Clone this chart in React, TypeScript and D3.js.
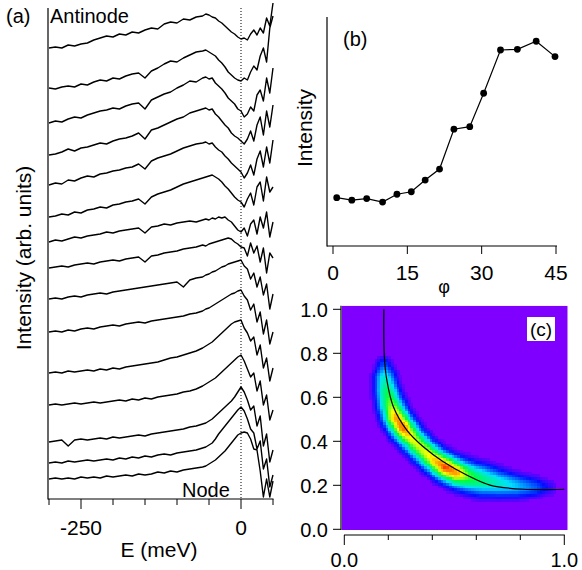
import React from "react";
import * as d3 from "d3";

// ---------- Panel (a): EDC stack ----------
const energies = [-300,-290,-280,-270,-260,-250,-240,-230,-220,-210,-200,-190,-180,-170,-160,-150,-140,-130,-120,-110,-100,-90,-80,-70,-60,-55,-50,-45,-40,-35,-30,-25,-20,-15,-10,-5,0,5,10,15,20,25,30,35,40,45,50];
const offsets = [451, 411, 376, 344, 314, 282, 257, 231, 200, 167, 126, 94, 57, 36, 20];
const curve01 = [0,1,0,3,2,4,5,8,10,12, 11,14,13,16,15,18,20,19,24,26, 25,29,28,31,32,34,33,31,30,27, 25,22,19,16,14,11,9,10,8,14, 18,13,20,15,30,22,45];
const curve02 = [0,-1,1,2,1,4,3,6,8,7, 10,9,12,14,15,10,17,20,24,27, 26,30,33,36,37,38,36,34,32,28, 25,21,16,13,10,8,7,10,8,16, 22,18,32,40,26,60,72];
const curve03 = [0,2,1,4,6,5,8,10,12,13, 15,14,17,19,20,14,23,26,29,31, 35,38,42,41,45,46,44,45,40,37, 34,30,25,22,19,14,12,6,9,16, 12,28,33,22,45,30,55];
const curve04 = [0,1,3,6,4,7,8,10,12,11, 14,16,17,19,22,16,25,27,30,33, 36,38,42,44,46,47,45,46,41,38, 34,30,27,22,19,17,14,11,16,24, 14,30,38,20,44,28,50];
const curve05 = [0,2,1,5,4,7,9,8,11,12, 14,15,17,18,21,16,24,27,29,31, 34,37,39,41,42,43,41,42,38,35, 33,29,26,22,19,16,13,7,12,20, 10,26,34,18,38,22,45];
const curve06 = [0,1,3,2,5,4,7,8,10,9, 12,13,15,16,18,13,20,23,25,27, 30,33,35,37,39,40,41,42,40,38, 35,31,28,24,20,17,15,10,18,24, 12,30,35,16,40,25,30];
const curve07 = [0,2,1,3,5,4,6,7,8,10, 9,11,12,13,14,9,15,16,18,17, 19,20,21,20,22,23,22,24,23,25, 24,25,22,20,16,12,10,14,6,18, 22,8,25,14,30,5,20];
const curve08 = [0,1,2,1,3,4,5,4,6,7, 8,7,9,10,11,6,12,13,15,16, 17,19,20,21,23,22,24,25,26,27, 28,29,30,29,26,24,21,20,12,25, 15,22,6,20,-5,15,10];
const curve09 = [0,1,0,2,3,2,4,5,6,5, 7,8,9,10,11,12,13,14,15,16, 17,12,19,21,22,24,25,27,28,30, 32,33,35,36,37,38,39,33,30,20, 26,12,22,4,15,-10,5];
const curve10 = [0,1,0,2,1,3,4,3,5,6, 7,6,8,9,10,9,11,12,13,14, 15,16,18,19,21,23,24,26,28,30, 32,34,36,38,39,41,42,36,32,22, 28,10,20,-2,12,-12,0];
const curve11 = [0,1,0,2,1,2,3,2,4,3, 5,4,6,7,8,9,10,11,13,15, 16,18,20,22,25,27,29,31,34,37, 40,43,46,49,51,52,53,45,40,32, 36,18,28,5,15,-8,5];
const curve12 = [0,1,0,1,2,1,2,3,2,3, 4,5,4,6,5,7,6,8,9,10, 11,13,14,16,19,21,23,25,27,30, 33,36,39,42,45,48,50,44,36,28, 32,14,24,0,10,-15,-5];
const curve13 = [0,1,2,-4,2,3,2,3,4,3, 5,4,5,6,7,6,8,9,10,11, 12,13,15,16,18,19,21,23,26,29, 32,35,38,41,45,50,55,50,42,32, 36,16,26,-4,8,-20,-8];
const curve14 = [0,1,0,2,1,2,3,2,3,4, 3,5,4,6,5,7,6,8,9,8, 10,11,12,13,15,16,18,20,24,29, 33,37,41,45,49,53,56,52,44,34, 30,14,22,-6,4,-24,-12];
const curve15 = [0,1,0,1,0,2,1,2,1,3, 2,3,4,3,5,4,5,7,6,8, 7,9,10,11,12,13,15,17,19,22, 25,28,32,36,40,44,46,47,46,40, 30,29,8,-18,0,-18,-2];
const curves = [curve01, curve02, curve03, curve04, curve05, curve06, curve07, curve08, curve09, curve10, curve11, curve12, curve13, curve14, curve15];
const eTicks = [-300, -250, -200, -150, -100, -50, 0, 50];
const eLabels = [-250, 0];

// ---------- Panel (b): intensity vs phi ----------
const phiValues = [0.75, 3.8, 6.8, 10, 12.9, 15.8, 18.6, 21.5, 24.4, 27.6, 30.4, 33.8, 37.2, 41, 44.8];
const phiIntensity = [0.211, 0.200, 0.207, 0.192, 0.226, 0.237, 0.288, 0.336, 0.510, 0.521, 0.667, 0.856, 0.859, 0.894, 0.827];
const phiTicks = [0, 15, 30, 45];

// ---------- Panel (c): intensity map ----------
const fsX = [0.180, 0.182, 0.193, 0.223, 0.284, 0.359, 0.450, 0.556, 0.662, 0.814, 1.0];
const fsY = [1.0, 0.785, 0.68, 0.557, 0.451, 0.375, 0.307, 0.247, 0.201, 0.182, 0.182];
const bandX = [0.180, 0.184, 0.194, 0.210, 0.234, 0.268, 0.310, 0.358, 0.408, 0.458, 0.510, 0.570, 0.630, 0.700, 0.780, 0.860, 0.930];
const bandY = [0.745, 0.690, 0.630, 0.570, 0.510, 0.460, 0.410, 0.362, 0.318, 0.284, 0.258, 0.238, 0.224, 0.210, 0.198, 0.192, 0.190];
const bandPeak = [0.12, 0.30, 0.42, 0.55, 0.80, 0.86, 0.66, 0.64, 0.74, 0.90, 0.80, 0.50, 0.38, 0.30, 0.22, 0.14, 0.05];
const bandWidth = [0.024, 0.029, 0.031, 0.033, 0.033, 0.033, 0.033, 0.033, 0.033, 0.034, 0.035, 0.038, 0.040, 0.036, 0.032, 0.028, 0.024];
const cTicks = [0, 0.2, 0.4, 0.6, 0.8, 1.0];

const FONT = "'Liberation Sans', Arial, Helvetica, sans-serif";

function bandIntensity(px: number, py: number): number {
  let best = 0;
  for (let i = 0; i < bandX.length - 1; i++) {
    const ax = bandX[i], ay = bandY[i], bx = bandX[i + 1], by = bandY[i + 1];
    const dx = bx - ax, dy = by - ay;
    const len2 = dx * dx + dy * dy;
    let t = ((px - ax) * dx + (py - ay) * dy) / len2;
    t = Math.max(0, Math.min(1, t));
    const qx = ax + t * dx, qy = ay + t * dy;
    const d2 = (px - qx) ** 2 + (py - qy) ** 2;
    const p = bandPeak[i] + t * (bandPeak[i + 1] - bandPeak[i]);
    const w = bandWidth[i] + t * (bandWidth[i + 1] - bandWidth[i]);
    const v = p * Math.exp(-d2 / (2 * w * w));
    if (v > best) best = v;
  }
  return best;
}

export default function App() {
  const xA = d3.scaleLinear().domain([-300, 50]).range([49, 273]);
  const yA = d3.scaleLinear().domain([0, 491]).range([499, 8]);
  const xB = d3.scaleLinear().domain([0, 45]).range([333, 556]);
  const yB = d3.scaleLinear().domain([0, 1]).range([246, 17]);
  const xC = d3.scaleLinear().domain([0, 1]).range([344.3, 564.3]);
  const yC = d3.scaleLinear().domain([0, 1]).range([529.3, 309.3]);

  const lineA = d3.line<number>().x((_, i) => xA(energies[i])).y((d) => yA(d));
  const lineB = d3.line<number>().x((_, i) => xB(phiValues[i])).y((d) => yB(d));
  const lineFS = d3.line<number>().x((d) => xC(d)).y((_, i) => yC(fsY[i])).curve(d3.curveCatmullRom.alpha(0.5));

  const color = d3.scaleLinear<string>()
    .domain([0, 0.07, 0.24, 0.45, 0.68, 0.84, 0.95])
    .range(["#8000ff", "#0010ff", "#00e0ff", "#00ff40", "#ffff00", "#ff8000", "#ff0000"])
    .clamp(true);

  const cell = 0.0125;
  const cells: { x: number; y: number; v: number }[] = [];
  for (let i = -1; i <= 82; i++) {
    for (let j = -1; j <= 82; j++) {
      const cx = (i + 0.5) * cell;
      const cy = (j + 0.5) * cell;
      const v = bandIntensity(cx, cy);
      if (v > 0.015) cells.push({ x: i * cell, y: j * cell, v });
    }
  }
  const mapLeft = 341.7, mapRight = 567.7, mapTop = 305.7, mapBottom = 530;
  const cellPx = xC(cell) - xC(0);

  return (
    <svg width={582} height={570} style={{ position: "absolute", left: 0, top: 0, background: "#fff" }} fontFamily={FONT}>
      {/* ===== Panel (a) ===== */}
      <g>
        <line x1={xA(0)} x2={xA(0)} y1={8} y2={499} stroke="#000" strokeWidth={1} strokeDasharray="1,2" />
        {curves.map((c, k) => (
          <path key={k} d={lineA(c.map((v) => v + offsets[k])) || ""} fill="none" stroke="#000" strokeWidth={1.4} strokeLinejoin="round" />
        ))}
        <line x1={48} x2={48} y1={8} y2={499.5} stroke="#000" strokeWidth={1.2} />
        <line x1={48} x2={273.5} y1={499} y2={499} stroke="#000" strokeWidth={1.2} />
        {eTicks.map((t) => (
          <line key={t} x1={xA(t)} x2={xA(t)} y1={499} y2={eLabels.includes(t) ? 509 : 505} stroke="#000" strokeWidth={1} />
        ))}
        {eLabels.map((t) => (
          <text key={t} x={xA(t)} y={535} fontSize={21} textAnchor="middle">{`${t}`}</text>
        ))}
        <text x={159} y={557} fontSize={21} textAnchor="middle">E (meV)</text>
        <text transform="translate(31,258) rotate(-90)" fontSize={21} textAnchor="middle">Intensity (arb. units)</text>
        <text x={6} y={23} fontSize={20}>(a)</text>
        <text x={50} y={23} fontSize={20}>Antinode</text>
        <text x={182} y={497} fontSize={20}>Node</text>
      </g>

      {/* ===== Panel (b) ===== */}
      <g>
        <line x1={327} x2={327} y1={17} y2={246.5} stroke="#000" strokeWidth={1.2} />
        <line x1={327} x2={557} y1={246} y2={246} stroke="#000" strokeWidth={1.2} />
        {phiTicks.map((t) => (
          <g key={t}>
            <line x1={xB(t)} x2={xB(t)} y1={246} y2={254} stroke="#000" strokeWidth={1} />
            <text x={xB(t)} y={280} fontSize={21} textAnchor="middle">{t}</text>
          </g>
        ))}
        <path d={lineB(phiIntensity) || ""} fill="none" stroke="#000" strokeWidth={1.2} />
        {phiIntensity.map((v, i) => (
          <circle key={i} cx={xB(phiValues[i])} cy={yB(v)} r={3.4} fill="#000" />
        ))}
        <text x={444} y={293} fontSize={18} textAnchor="middle">φ</text>
        <text transform="translate(312,128) rotate(-90)" fontSize={21} textAnchor="middle">Intensity</text>
        <text x={343} y={46} fontSize={20}>(b)</text>
      </g>

      {/* ===== Panel (c) ===== */}
      <g>
        <defs>
          <clipPath id="mapclip">
            <rect x={mapLeft} y={mapTop} width={mapRight - mapLeft} height={mapBottom - mapTop} />
          </clipPath>
        </defs>
        <g clipPath="url(#mapclip)">
          <rect x={mapLeft} y={mapTop} width={mapRight - mapLeft} height={mapBottom - mapTop} fill={color(0)} />
          {cells.map((c, k) => (
            <rect key={k} x={xC(c.x)} y={yC(c.y + cell)} width={cellPx + 0.4} height={cellPx + 0.4} fill={color(c.v)} shapeRendering="crispEdges" />
          ))}
          <path d={lineFS(fsX) || ""} fill="none" stroke="#000" strokeWidth={1.2} />
        </g>
        <line x1={341} x2={341} y1={305.7} y2={530} stroke="#000" strokeWidth={1.2} />
        {cTicks.map((t) => (
          <g key={"y" + t}>
            <line x1={333} x2={341} y1={yC(t)} y2={yC(t)} stroke="#000" strokeWidth={1} />
            <text x={328} y={yC(t) + 7.5} fontSize={20} textAnchor="end">{t.toFixed(1)}</text>
          </g>
        ))}
        <line x1={344} x2={564.8} y1={535} y2={535} stroke="#000" strokeWidth={1.2} />
        {cTicks.map((t) => (
          <line key={"x" + t} x1={xC(t)} x2={xC(t)} y1={535} y2={t === 0 || t === 1 ? 545 : 540} stroke="#000" strokeWidth={1} />
        ))}
        <text x={xC(0)} y={567} fontSize={20} textAnchor="middle">0.0</text>
        <text x={xC(1)} y={567} fontSize={20} textAnchor="middle">1.0</text>
        <rect x={527} y={317} width={28} height={24} fill="#fff" />
        <text x={541} y={336} fontSize={19} textAnchor="middle">(c)</text>
      </g>
    </svg>
  );
}
